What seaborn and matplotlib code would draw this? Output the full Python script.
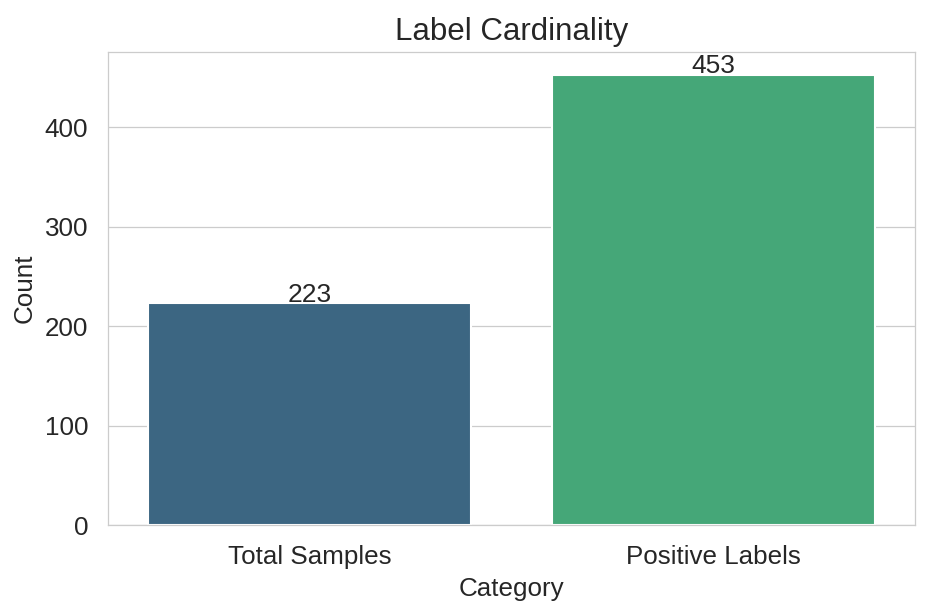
import matplotlib
matplotlib.use("Agg")
import matplotlib.pyplot as plt
import seaborn as sns
import pandas as pd

categories = ["Total Samples", "Positive Labels"]
counts = [223, 453]

sns.set_theme(style="whitegrid")
plt.rcParams['font.family'] = ['Liberation Sans', 'DejaVu Sans']

df = pd.DataFrame({"Category": categories, "Count": counts})

fig, ax = plt.subplots(figsize=(931 / 150, 613 / 150), dpi=150)
sns.barplot(data=df, x="Category", y="Count", hue="Category",
            palette="viridis", legend=False, ax=ax)

for container in ax.containers:
    ax.bar_label(container, fontsize=12.7, padding=-1.5)

ax.set_title("Label Cardinality", fontsize=15)
ax.set_xlabel("Category", fontsize=12.5)
ax.set_ylabel("Count", fontsize=12.5)
ax.tick_params(labelsize=12.5)
ax.grid(axis="y", linewidth=0.6)
for spine in ax.spines.values():
    spine.set_linewidth(0.6)

plt.subplots_adjust(left=0.116, right=0.983, top=0.915, bottom=0.143)
fig.savefig("out.png", dpi=150)
